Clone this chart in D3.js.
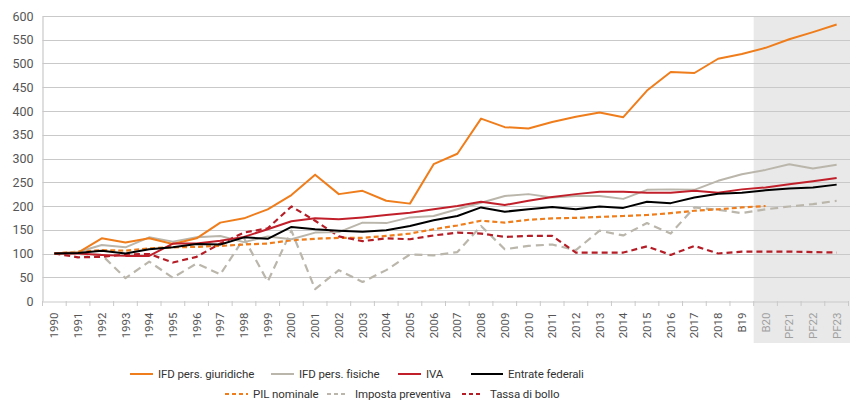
<!DOCTYPE html>
<html>
<head>
<meta charset="utf-8">
<script src="https://cdn.jsdelivr.net/npm/d3@7"></script>
<style>
  body { margin: 0; background: #fff; }
  svg text { font-family: Roboto, "Liberation Sans", sans-serif; }
</style>
</head>
<body>
<div id="chart"></div>
<script>
// categories on the x axis (last ones are budget / financial plan)
const years = ["1990","1991","1992","1993","1994","1995","1996","1997","1998","1999",
  "2000","2001","2002","2003","2004","2005","2006","2007","2008","2009",
  "2010","2011","2012","2013","2014","2015","2016","2017","2018","B19",
  "B20","PF21","PF22","PF23"];
const forecastCats = ["B20","PF21","PF22","PF23"];
const yTicks = [0,50,100,150,200,250,300,350,400,450,500,550,600];

// index values, 1990 = 100
const ifdGiuridiche = [100,102,132,123,132,120,132,165,174,193,
  223,266,225,232,211,205,288,310,384,366,
  363,377,388,397,387,443,482,480,510,520,
  533,551,566,582];
const ifdFisiche = [100,103,118,113,134,125,134,137,124,136,
  130,144,145,165,164,176,179,193,207,221,
  225,218,221,221,215,234,235,234,253,267,
  276,288,279,287];
const iva = [100,100,97,95,95,121,121,127,135,151,
  168,174,172,176,181,186,193,200,209,202,
  211,219,225,230,230,228,228,232,228,235,
  239,246,252,259];
const entrateFederali = [100,101,106,100,109,113,120,119,134,131,
  156,151,148,146,149,158,170,179,197,188,
  193,198,193,199,196,209,206,218,226,228,
  233,237,239,245];
const pilNominale = [100,104,107,106,111,113,114,116,119,121,
  128,131,133,133,137,142,151,159,169,165,
  171,174,175,177,179,181,185,190,193,197,
  200,null,null,null];
const impostaPreventiva = [100,99,97,48,83,49,79,56,132,41,
  148,25,65,40,65,98,96,103,158,109,
  116,119,107,148,138,164,142,197,192,185,
  193,199,204,211];
const tassaBollo = [100,92,93,98,99,81,93,121,144,153,
  199,169,136,126,132,130,138,144,142,135,
  137,137,102,102,102,115,97,116,100,104,
  104,104,103,102];

const series = [
  { name: "IFD pers. giuridiche", values: ifdGiuridiche, color: "#ef7d1b", dash: null },
  { name: "IFD pers. fisiche", values: ifdFisiche, color: "#bab6ab", dash: null },
  { name: "IVA", values: iva, color: "#c1202b", dash: null },
  { name: "Entrate federali", values: entrateFederali, color: "#000000", dash: null },
  { name: "PIL nominale", values: pilNominale, color: "#ef7d1b", dash: "5,3" },
  { name: "Imposta preventiva", values: impostaPreventiva, color: "#bab6ab", dash: "8,5" },
  { name: "Tassa di bollo", values: tassaBollo, color: "#b51d26", dash: "6,4" }
];

const width = 856, height = 401;
const svg = d3.select("#chart").append("svg")
  .attr("width", width)
  .attr("height", height);

const x = d3.scaleBand().domain(years).range([42.5, 848.5]).padding(0);
const y = d3.scaleLinear().domain([0, 600]).range([301, 16]);

// shaded forecast region
const shadeX = x(forecastCats[0]);
svg.append("rect")
  .attr("x", shadeX)
  .attr("y", y(600))
  .attr("width", x.range()[1] + 1.5 - shadeX)
  .attr("height", 343 - y(600))
  .attr("fill", "#e9e9e9");

// gridlines
svg.append("g")
  .selectAll("line")
  .data(yTicks.filter(d => d > 0))
  .enter().append("line")
  .attr("x1", x.range()[0])
  .attr("x2", x.range()[1] + 1.5)
  .attr("y1", d => Math.round(y(d)) + 0.5)
  .attr("y2", d => Math.round(y(d)) + 0.5)
  .attr("stroke", "#c9c9c9")
  .attr("stroke-width", 1.2);

// y axis
const yAxis = svg.append("g")
  .attr("transform", `translate(${x.range()[0]},0)`)
  .call(d3.axisLeft(y).tickValues(yTicks).tickSize(0).tickPadding(9));
yAxis.select(".domain").attr("stroke", "#c9c9c9").attr("stroke-width", 1.2);
yAxis.selectAll("text").attr("font-size", 12.5).attr("fill", "#555");

// x axis with ticks at band edges
const xAxis = svg.append("g")
  .attr("transform", `translate(0,${Math.round(y(0)) + 0.5})`)
  .call(d3.axisBottom(x).tickSize(0).tickPadding(0));
xAxis.select(".domain").attr("stroke", "#c9c9c9").attr("stroke-width", 1.2);
xAxis.selectAll(".tick text")
  .attr("transform", "rotate(-90)")
  .attr("text-anchor", "end")
  .attr("x", -11)
  .attr("y", 0)
  .attr("dy", "0.35em")
  .attr("font-size", 11.5)
  .attr("fill", d => forecastCats.includes(d) ? "#a0a0a0" : "#555");

svg.append("g")
  .selectAll("line")
  .data(years.concat(["end"]))
  .enter().append("line")
  .attr("x1", (d, i) => x.range()[0] + i * x.bandwidth())
  .attr("x2", (d, i) => x.range()[0] + i * x.bandwidth())
  .attr("y1", y(0))
  .attr("y2", y(0) + 5)
  .attr("stroke", "#c9c9c9")
  .attr("stroke-width", 1);

// lines, drawn so the solid ones end up on top like the original
const line = d3.line()
  .defined(d => d != null)
  .x((d, i) => x(years[i]) + x.bandwidth() / 2)
  .y(d => y(d));

const drawOrder = [5, 4, 6, 1, 0, 2, 3];
drawOrder.forEach(k => {
  const s = series[k];
  svg.append("path")
    .datum(s.values)
    .attr("d", line)
    .attr("fill", "none")
    .attr("stroke", s.color)
    .attr("stroke-width", s.dash ? 2.2 : 2)
    .attr("stroke-dasharray", s.dash)
    .attr("stroke-linejoin", "round");
});

// legend
const legendPos = [
  { x: 130, y: 374, w: 23 }, { x: 271, y: 374, w: 23 }, { x: 398, y: 374, w: 23 },
  { x: 471, y: 374, w: 32 },
  { x: 225, y: 394, w: 23 }, { x: 327, y: 394, w: 20 }, { x: 462, y: 394, w: 20 }
];
const legend = svg.append("g").attr("class", "legend");
series.forEach((s, i) => {
  const p = legendPos[i];
  const g = legend.append("g").attr("transform", `translate(${p.x},${p.y})`);
  g.append("line")
    .attr("x1", 0).attr("x2", p.w)
    .attr("stroke", s.color)
    .attr("stroke-width", 2)
    .attr("stroke-dasharray", s.dash ? "4,3" : null);
  g.append("text")
    .attr("x", p.w + (i >= 5 ? 8 : 5))
    .attr("dy", "0.35em")
    .attr("font-size", 11.5)
    .attr("letter-spacing", "-0.1px")
    .attr("fill", "#333")
    .text(s.name);
});
</script>
</body>
</html>
